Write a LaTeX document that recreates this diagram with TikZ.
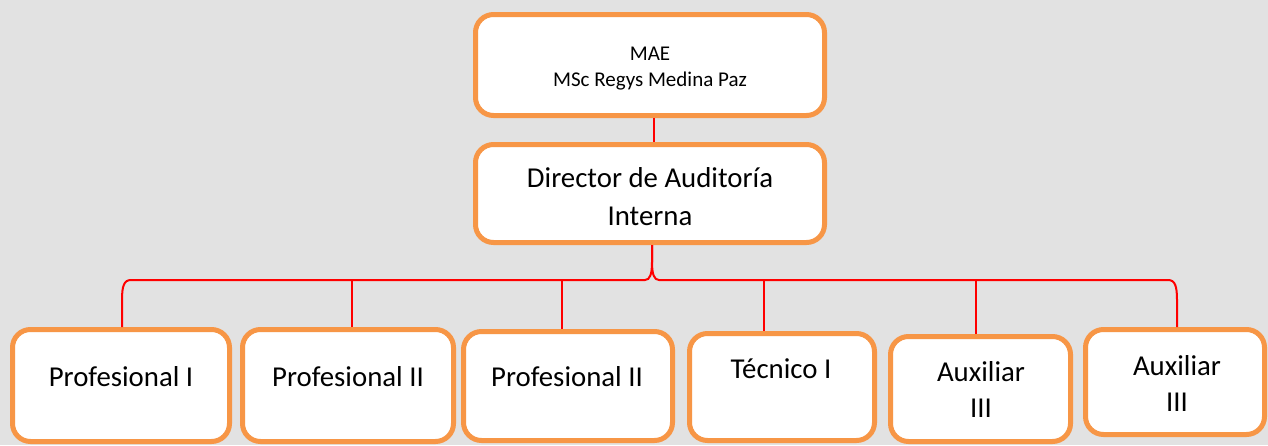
\documentclass[tikz,border=0pt]{standalone}
\usepackage{fontspec}
\setmainfont{Carlito}
\usetikzlibrary{calc}
\definecolor{boxorange}{RGB}{247,150,70}
\definecolor{bggray}{RGB}{226,226,226}
\definecolor{linered}{RGB}{255,0,0}
\begin{document}
\begin{tikzpicture}[x=1pt,y=-1pt,
  orgbox/.style={draw=boxorange, line width=5pt, fill=white, rounded corners=18pt, inner sep=0pt},
  bigtext/.style={font=\fontsize{28.8}{38}\selectfont, anchor=base, align=center, inner sep=0pt},
  auxtext/.style={font=\fontsize{28.8}{35.5}\selectfont, anchor=base, align=center, inner sep=0pt},
  smalltext/.style={font=\fontsize{21}{26}\selectfont, anchor=base, align=center, inner sep=0pt},
  conn/.style={draw=linered, line width=2pt}]
\fill[bggray] (0,0) rectangle (1268,445);
\useasboundingbox (0,0) rectangle (1268,445);

% boxes
\node[orgbox, minimum width=349pt, minimum height=101pt] (mae) at (650,65) {};
\node[orgbox, minimum width=349pt, minimum height=98pt] (dir) at (650,193.5) {};
\node[orgbox, minimum width=217pt, minimum height=112pt] (p1) at (121,385.5) {};
\node[orgbox, minimum width=211pt, minimum height=112pt] (p2) at (348,385.5) {};
\node[orgbox, minimum width=209pt, minimum height=109pt] (p3) at (568,386) {};
\node[orgbox, minimum width=185pt, minimum height=107pt] (tec) at (782,387) {};
\node[orgbox, minimum width=180pt, minimum height=105pt] (a5) at (980.5,389) {};
\node[orgbox, minimum width=179pt, minimum height=105pt] (a6) at (1175,382) {};

% texts (multi-line nodes: base = last line baseline)
\node[smalltext] (maet) at (650,86) {MAE\\MSc Regys Medina Paz};
\node[bigtext] (dirt) at (650,225) {Director de Auditoría\\Interna};
\node[bigtext] (p1t) at (121,386) {Profesional I};
\node[bigtext] (p2t) at (348,386) {Profesional II};
\node[bigtext] (p3t) at (567,386) {Profesional II};
\node[bigtext] (tect) at (781,378) {Técnico I};
\node[auxtext] (a5t) at (981,417) {Auxiliar\\III};
\node[auxtext] (a6t) at (1177,411) {Auxiliar\\III};

% connectors
\coordinate (bar) at (0,280);
\coordinate (peak) at ($(dir.south)+(2,0)$);
\coordinate (p1top) at ($(p1.north)+(1,0)$);
\coordinate (a6top) at ($(a6.north)+(2,0)$);
\coordinate (p2top) at ($(p2.north)+(4,0)$);
\coordinate (p3top) at ($(p3.north)+(-6,0)$);
\coordinate (tectop) at ($(tec.north)+(-18,0)$);
\coordinate (a5top) at ($(a5.north)+(-4.5,0)$);

\draw[conn] ($(mae.south)+(4,0)$) -- ($(dir.north)+(4,0)$);

\draw[conn] (p1top) -- ($(p1top |- bar)+(0,20)$)
  .. controls ($(p1top |- bar)+(0,6)$) and ($(p1top |- bar)+(2,0)$) .. ($(p1top |- bar)+(9,0)$)
  -- ($(peak |- bar)+(-7,0)$)
  .. controls ($(peak |- bar)+(-2,0)$) and ($(peak |- bar)+(0,-6)$) .. ($(peak |- bar)+(0,-18)$)
  -- (peak);
\draw[conn] (peak) -- ($(peak |- bar)+(0,-18)$)
  .. controls ($(peak |- bar)+(0,-6)$) and ($(peak |- bar)+(2,0)$) .. ($(peak |- bar)+(7,0)$)
  -- ($(a6top |- bar)+(-9,0)$)
  .. controls ($(a6top |- bar)+(-2,0)$) and ($(a6top |- bar)+(0,6)$) .. ($(a6top |- bar)+(0,20)$)
  -- (a6top);

\draw[conn] (p2top) -- (p2top |- bar);
\draw[conn] (p3top) -- (p3top |- bar);
\draw[conn] (tectop) -- (tectop |- bar);
\draw[conn] (a5top) -- (a5top |- bar);
\end{tikzpicture}
\end{document}
